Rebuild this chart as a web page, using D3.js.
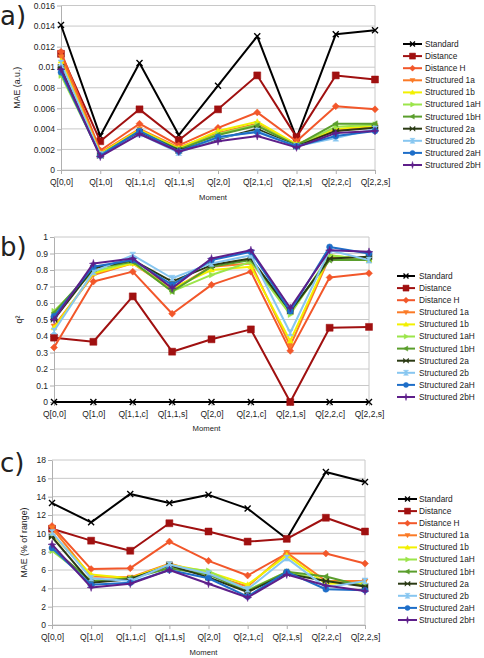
<!DOCTYPE html>
<html><head><meta charset="utf-8">
<script src="https://cdn.jsdelivr.net/npm/d3@7"></script>
<style>
body{margin:0;background:#fff}
svg{display:block;background:#fff}
text{font-family:"Liberation Sans",Arial,sans-serif;fill:#222}
</style>
</head><body>
<svg id="chart" width="484" height="658"></svg>
<script>
// ---------------- DATA ----------------
const categories = ["Q[0,0]","Q[1,0]","Q[1,1,c]","Q[1,1,s]","Q[2,0]","Q[2,1,c]","Q[2,1,s]","Q[2,2,c]","Q[2,2,s]"];
const seriesNames = ["Standard","Distance","Distance H","Structured 1a","Structured 1b","Structured 1aH","Structured 1bH","Structured 2a","Structured 2b","Structured 2aH","Structured 2bH"];

// panel a) MAE (a.u.)
const maeAU = [
  [0.0141,0.0033,0.0104,0.0034,0.0082,0.0130,0.0031,0.0132,0.0136],
  [0.0113,0.0028,0.0059,0.0029,0.0059,0.0092,0.0032,0.0092,0.0088],
  [0.0115,0.0019,0.0045,0.0024,0.0041,0.0056,0.0028,0.0062,0.0059],
  [0.0110,0.0017,0.0040,0.0022,0.0036,0.0045,0.0025,0.0038,0.0043],
  [0.0106,0.0016,0.0039,0.0021,0.0038,0.0047,0.0025,0.0040,0.0043],
  [0.0092,0.0015,0.0038,0.0020,0.0035,0.0044,0.0024,0.0042,0.0044],
  [0.0095,0.0015,0.0037,0.0020,0.0034,0.0043,0.0024,0.0045,0.0045],
  [0.0100,0.0014,0.0037,0.0019,0.0030,0.0040,0.0023,0.0038,0.0041],
  [0.0104,0.0015,0.0035,0.0017,0.0031,0.0038,0.0023,0.0031,0.0040],
  [0.0095,0.0014,0.0038,0.0018,0.0032,0.0037,0.0023,0.0033,0.0038],
  [0.0098,0.0013,0.0035,0.0018,0.0028,0.0033,0.0022,0.0036,0.0038]
];

// panel b) q2
const q2 = [
  [0,0,0,0,0,0,0,0,0],
  [0.39,0.365,0.64,0.305,0.38,0.44,0.0,0.45,0.455],
  [0.33,0.73,0.79,0.535,0.71,0.79,0.31,0.755,0.78],
  [0.46,0.77,0.84,0.68,0.82,0.84,0.34,0.88,0.87],
  [0.45,0.78,0.84,0.69,0.80,0.82,0.37,0.89,0.86],
  [0.55,0.79,0.85,0.67,0.77,0.85,0.53,0.89,0.86],
  [0.54,0.81,0.85,0.67,0.82,0.86,0.55,0.86,0.86],
  [0.50,0.81,0.86,0.73,0.83,0.87,0.55,0.87,0.88],
  [0.43,0.79,0.89,0.75,0.84,0.89,0.42,0.92,0.86],
  [0.52,0.82,0.86,0.71,0.86,0.91,0.55,0.94,0.90],
  [0.50,0.84,0.87,0.69,0.87,0.92,0.57,0.92,0.91]
];

// panel c) MAE (% of range)
const maePct = [
  [13.3,11.2,14.3,13.3,14.2,12.7,9.4,16.7,15.6],
  [10.5,9.2,8.1,11.1,10.2,9.1,9.4,11.7,10.2],
  [10.8,6.1,6.2,9.1,7.0,5.4,7.8,7.8,6.7],
  [10.6,5.3,5.2,6.7,5.5,4.2,7.9,4.8,4.8],
  [9.9,5.5,5.1,6.6,5.8,4.4,7.6,4.5,4.6],
  [8.1,4.8,5.0,6.4,5.9,3.8,5.8,4.8,4.3],
  [8.4,4.8,5.1,6.2,5.5,3.7,5.8,5.3,4.2],
  [9.6,4.6,5.0,6.5,5.2,3.6,5.6,4.8,4.2],
  [10.1,5.1,4.8,6.6,5.6,3.9,7.3,4.1,4.8],
  [8.4,4.4,4.6,6.0,5.1,3.1,5.8,3.9,3.8],
  [8.8,4.1,4.5,6.0,4.5,3.0,5.5,4.3,3.7]
];

const ticksA = [0,0.002,0.004,0.006,0.008,0.010,0.012,0.014,0.016];
const tickLabelsA = ["0","0.002","0.004","0.006","0.008","0.01","0.012","0.014","0.016"];
const ticksB = [0,0.1,0.2,0.3,0.4,0.5,0.6,0.7,0.8,0.9,1];
const tickLabelsB = ["0","0.1","0.2","0.3","0.4","0.5","0.6","0.7","0.8","0.9","1"];
const ticksC = [0,2,4,6,8,10,12,14,16,18];
const tickLabelsC = ["0","2","4","6","8","10","12","14","16","18"];

// ---------------- STYLE ----------------
const colors = ["#000000","#a01010","#f2572a","#fb7a26","#f2f000","#9be54a","#5a9e2c","#2b3a14","#87c6f0","#1e6ec8","#5e1f8a"];
const markers = ["x","square","diamond","down","up","right","left","bowtie","hourglass","circle","star"];

function markerPath(type, s) {
  const h = s/2;
  switch(type) {
    case "square": return `M${-h},${-h}H${h}V${h}H${-h}Z`;
    case "diamond": return `M0,${-h-0.5}L${h+0.5},0L0,${h+0.5}L${-h-0.5},0Z`;
    case "down": return `M${-h},${-h*0.7}L${h},${-h*0.7}L0,${h}Z`;
    case "up": return `M${-h},${h*0.7}L${h},${h*0.7}L0,${-h}Z`;
    case "right": return `M${-h*0.7},${-h}L${h},0L${-h*0.7},${h}Z`;
    case "left": return `M${h*0.7},${-h}L${-h},0L${h*0.7},${h}Z`;
    case "bowtie": return `M${-h},${-h}L${h},${h}L${h},${-h}L${-h},${h}Z`;
    case "hourglass": return `M${-h},${-h}L${h},${-h}L${-h},${h}L${h},${h}Z`;
    case "circle": return d3.symbol(d3.symbolCircle, Math.PI*h*h)();
    case "star": return `M0,${-h-1}L${h*0.3},${-h*0.3}L${h+1},0L${h*0.3},${h*0.3}L0,${h+1}L${-h*0.3},${h*0.3}L${-h-1},0L${-h*0.3},${-h*0.3}Z`;
    default: return "";
  }
}

function drawMarker(g, type, x, y, color, s) {
  if (type === "x") {
    const h = s/2;
    g.append("path").attr("d", `M${x-h},${y-h}L${x+h},${y+h}M${x-h},${y+h}L${x+h},${y-h}`)
      .attr("stroke", color).attr("stroke-width", 1.4).attr("fill","none");
  } else {
    g.append("path").attr("d", markerPath(type, s)).attr("transform", `translate(${x},${y})`)
      .attr("fill", color).attr("stroke", color).attr("stroke-width", 0.5);
  }
}

const panels = [
  {data: maeAU, ticks: ticksA, labels: tickLabelsA, max: 0.016, title: "MAE (a.u.)", letter: "a)",
   l: 61, r: 375, t: 5.5, b: 170, letterY: 25, titleX: 20, momentY: 200, legX0: 403, legX1: 422, legTx: 425, legY0: 44},
  {data: q2, ticks: ticksB, labels: tickLabelsB, max: 1, title: "q²", letter: "b)",
   l: 54, r: 369, t: 237, b: 402, letterY: 256, titleX: 22, momentY: 431, legX0: 397, legX1: 415, legTx: 419, legY0: 276},
  {data: maePct, ticks: ticksC, labels: tickLabelsC, max: 18, title: "MAE (% of range)", letter: "c)",
   l: 52, r: 365, t: 460, b: 625, letterY: 472, titleX: 27, momentY: 655, legX0: 398, legX1: 417, legTx: 419, legY0: 499}
];

const svg = d3.select("#chart");

panels.forEach(p => {
  const g = svg.append("g");
  const x = d3.scalePoint().domain(categories).range([p.l, p.r]).padding(0);
  const y = d3.scaleLinear().domain([0, p.max]).range([p.b, p.t]);

  // gridlines
  g.append("g").selectAll("line").data(p.ticks).join("line")
    .attr("x1", p.l).attr("x2", p.r).attr("y1", d => y(d)).attr("y2", d => y(d))
    .attr("stroke", "#c8c8c8").attr("stroke-width", 1);
  g.append("line").attr("x1", p.r).attr("x2", p.r).attr("y1", p.t).attr("y2", p.b)
    .attr("stroke", "#c8c8c8");

  // y axis
  const ya = g.append("g").attr("transform", `translate(${p.l},0)`)
    .call(d3.axisLeft(y).tickValues(p.ticks).tickFormat((d,i) => p.labels[i]).tickSize(4).tickPadding(2).tickSizeOuter(0));
  ya.select(".domain").attr("stroke", "#b0b0b0");
  ya.selectAll(".tick line").attr("stroke", "#b0b0b0");
  ya.selectAll("text").attr("font-size", 8.5).attr("fill", "#222").attr("font-family", "Liberation Sans, Arial, sans-serif");

  // x axis
  const xa = g.append("g").attr("transform", `translate(0,${p.b})`)
    .call(d3.axisBottom(x).tickSize(4).tickPadding(5).tickSizeOuter(0));
  xa.select(".domain").attr("stroke", "#b0b0b0");
  xa.selectAll(".tick line").attr("stroke", "#b0b0b0");
  xa.selectAll("text").attr("font-size", 8.5).attr("fill", "#222").attr("font-family", "Liberation Sans, Arial, sans-serif");

  // series
  const line = d3.line().x((d,i) => x(categories[i])).y(d => y(d));
  p.data.forEach((vals, si) => {
    const sg = g.append("g");
    sg.append("path").datum(vals).attr("d", line).attr("fill", "none")
      .attr("stroke", colors[si]).attr("stroke-width", 2).attr("stroke-linejoin", "round");
    vals.forEach((v, i) => drawMarker(sg, markers[si], x(categories[i]), y(v), colors[si], si === 1 ? 7 : 6));
  });

  // axis titles
  g.append("text").attr("x", (p.l + p.r)/2 - 5).attr("y", p.momentY).attr("text-anchor", "middle")
    .attr("font-size", 7.7).text("Moment");
  g.append("text").attr("transform", `translate(${p.titleX},${(p.t + p.b)/2}) rotate(-90)`)
    .attr("text-anchor", "middle").attr("font-size", 8.8).text(p.title);

  // panel letter
  svg.append("text").attr("x", 0).attr("y", p.letterY).attr("font-size", 26)
    .style("font-family", "'DejaVu Sans', sans-serif").attr("fill", "#111").text(p.letter);

  // legend
  const lg = g.append("g");
  seriesNames.forEach((name, si) => {
    const ly = p.legY0 + si * 12.1;
    lg.append("line").attr("x1", p.legX0).attr("x2", p.legX1).attr("y1", ly).attr("y2", ly)
      .attr("stroke", colors[si]).attr("stroke-width", 2);
    drawMarker(lg, markers[si], (p.legX0 + p.legX1)/2, ly, colors[si], si === 1 ? 6 : 5);
    lg.append("text").attr("x", p.legTx).attr("y", ly).attr("dy", "0.35em")
      .attr("font-size", 8.3).text(name);
  });
});
</script>
</body></html>
